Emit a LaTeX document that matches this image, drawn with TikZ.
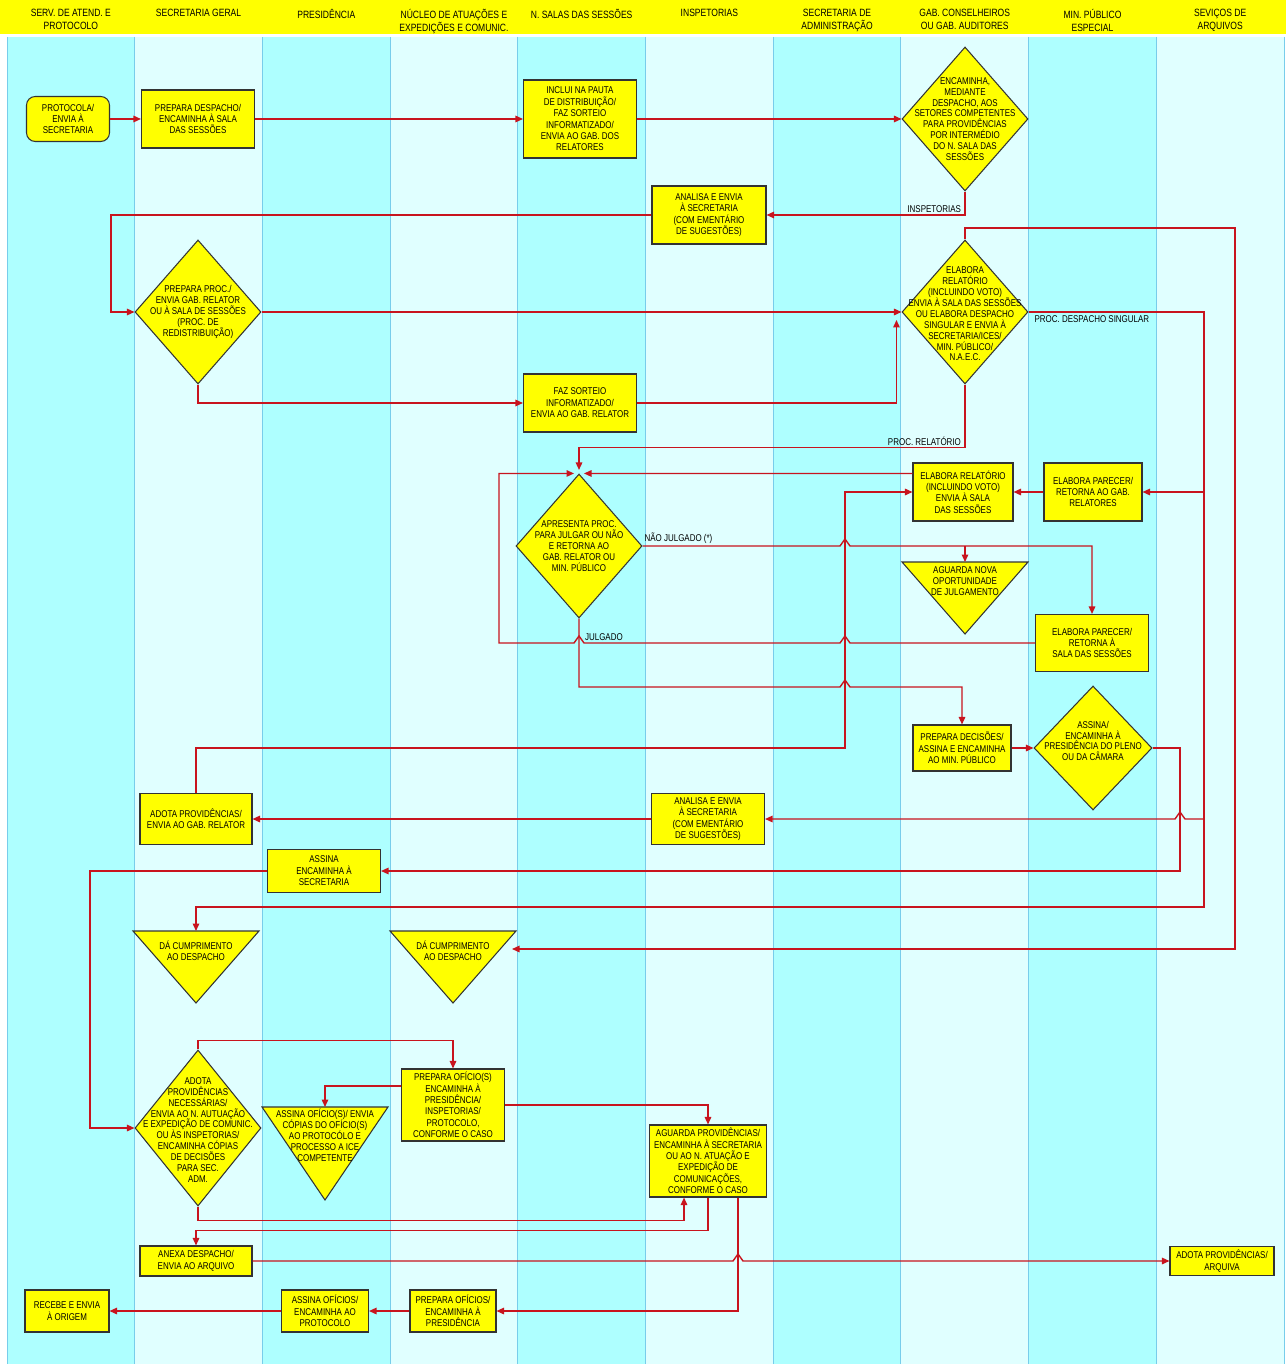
\documentclass[tikz,border=0pt]{standalone}
\usepackage{fontspec}
\setmainfont{Liberation Sans}[FakeStretch=0.81]
\usetikzlibrary{shapes.geometric,arrows.meta}

\definecolor{laneA}{RGB}{174,255,255}
\definecolor{laneB}{RGB}{224,255,255}
\definecolor{laneline}{RGB}{120,205,235}
\definecolor{flowred}{RGB}{200,20,30}
\definecolor{boxfill}{RGB}{255,255,0}

\tikzset{
  actbox/.style 2 args={draw=black!80, line width=0.6pt, fill=boxfill, minimum width=#1*0.02cm, minimum height=#2*0.02cm, inner sep=1pt, align=center, font=\fontsize{5.6}{6.5}\selectfont},
  decbox/.style 2 args={diamond, draw=black!80, line width=0.6pt, fill=boxfill, minimum width=#1*0.02cm, minimum height=#2*0.02cm, inner sep=0pt},
  dtext/.style={align=center, font=\fontsize{5.6}{6.2}\selectfont, inner sep=0pt},
  trishape/.style={draw=black!80, line width=0.6pt, fill=boxfill},
  flow/.style={draw=flowred, line width=0.8pt, -{Triangle[length=0.15cm,width=0.13cm]}},
  lbl/.style={font=\fontsize{5.6}{6.5}\selectfont, inner sep=1pt},
  lanehead/.style={font=\fontsize{6}{7.4}\selectfont, align=center, anchor=north, inner sep=0pt}
}

% triangle: name, x centre, y top, height
\newcommand{\tri}[4]{%
  \draw[trishape] ({#2-63},#3) -- ({#2+63},#3) -- (#2,{#3+#4}) -- cycle;
  \coordinate (#1-n) at (#2,#3);}
% line hops (going right / going left)
\newcommand{\hopr}[2]{-- ({#1-5},#2) -- (#1,{#2-7}) -- ({#1+5},#2)}
\newcommand{\hopl}[2]{-- ({#1+5},#2) -- (#1,{#2-7}) -- ({#1-5},#2)}

\begin{document}
\begin{tikzpicture}[x=0.02cm,y=-0.02cm]
\useasboundingbox (0,0) rectangle (1286,1364);

% lanes
\fill[boxfill] (0,0) rectangle (1286,34);
\foreach \i in {0,2,4,6,8}
  \fill[laneA] ({7+127.7*\i},37) rectangle ({7+127.7*(\i+1)},1364);
\foreach \i in {1,3,5,7,9}
  \fill[laneB] ({7+127.7*\i},37) rectangle ({7+127.7*(\i+1)},1364);
\foreach \i in {0,...,10}
  \draw[laneline,line width=0.5pt] ({7+127.7*\i},37) -- ({7+127.7*\i},1364);
\foreach \i/\t in {0/{SERV. DE ATEND. E\\PROTOCOLO}, 1/{SECRETARIA GERAL}, 2/{PRESIDÊNCIA},
    3/{NÚCLEO DE ATUAÇÕES E\\EXPEDIÇÕES E COMUNIC.}, 4/{N. SALAS DAS SESSÕES}, 5/{INSPETORIAS},
    6/{SECRETARIA DE\\ADMINISTRAÇÃO}, 7/{GAB. CONSELHEIROS\\OU GAB. AUDITORES},
    8/{MIN. PÚBLICO\\ESPECIAL}, 9/{SEVIÇOS DE\\ARQUIVOS}}
  \node[lanehead] (hd\i) at ({7+127.7*(\i+0.5)},9) {\t};

\coordinate (railA) at (1204,0);
\coordinate (railB) at (1235,0);
\coordinate (railC) at (1180,0);
\coordinate (railD) at (845,0);
\coordinate (railE) at (499,0);
\coordinate (railF) at (111,0);
\coordinate (railG) at (90,0);
\coordinate (railH) at (738,0);

% steps
\node[actbox={83}{45},rounded corners=5pt] (protocola) at (68,119) {PROTOCOLA/\\ENVIA À\\SECRETARIA};
\node[actbox={113}{58}] (prepdesp) at (198,119) {PREPARA DESPACHO/\\ENCAMINHA À SALA\\DAS SESSÕES};
\node[actbox={113}{78}] (inclui) at (580,119) {INCLUI NA PAUTA\\DE DISTRIBUIÇÃO/\\FAZ SORTEIO\\INFORMATIZADO/\\ENVIA AO GAB. DOS\\RELATORES};
\node[decbox={126}{144},label={[dtext]center:{ENCAMINHA,\\MEDIANTE\\DESPACHO, AOS\\SETORES COMPETENTES\\PARA PROVIDÊNCIAS\\POR INTERMÉDIO\\DO N. SALA DAS\\SESSÕES}}] (encaminha) at (965,119) {};
\node[actbox={114}{58}] (analisa1) at (709,215) {ANALISA E ENVIA\\À SECRETARIA\\(COM EMENTÁRIO\\DE SUGESTÕES)};
\node[decbox={126}{144},label={[dtext]center:{PREPARA PROC./\\ENVIA GAB. RELATOR\\OU À SALA DE SESSÕES\\(PROC. DE\\REDISTRIBUIÇÃO)}}] (prepproc) at (198,312) {};
\node[decbox={126}{144},label={[dtext,yshift=-0.04cm]center:{ELABORA\\RELATÓRIO\\(INCLUINDO VOTO)\\ENVIA À SALA DAS SESSÕES\\OU ELABORA DESPACHO\\SINGULAR E ENVIA À\\SECRETARIA/ICES/\\MIN. PÚBLICO/\\N.A.E.C.}}] (elabora) at (965,312) {};
\node[actbox={113}{58}] (fazsorteio) at (580,403) {FAZ SORTEIO\\INFORMATIZADO/\\ENVIA AO GAB. RELATOR};
\node[actbox={100}{58}] (elabrel) at (963,492) {ELABORA RELATÓRIO\\(INCLUINDO VOTO)\\ENVIA À SALA\\DAS SESSÕES};
\node[actbox={98}{58}] (elabpar1) at (1093,492) {ELABORA PARECER/\\RETORNA AO GAB.\\RELATORES};
\node[decbox={126}{144},label={[dtext]center:{APRESENTA PROC.\\PARA JULGAR OU NÃO\\E RETORNA AO\\GAB. RELATOR OU\\MIN. PÚBLICO}}] (apresenta) at (579,546) {};
\tri{aguarda}{965}{562}{72}
\node[dtext,anchor=north] (aguarda) at (965,566) {AGUARDA NOVA\\OPORTUNIDADE\\DE JULGAMENTO};
\node[actbox={113}{57}] (elabpar2) at (1092,643) {ELABORA PARECER/\\RETORNA À\\SALA DAS SESSÕES};
\node[actbox={98}{46}] (prepdec) at (962,748) {PREPARA DECISÕES/\\ASSINA E ENCAMINHA\\AO MIN. PÚBLICO};
\node[decbox={118}{124},label={[dtext,yshift=0.14cm]center:{ASSINA/\\ENCAMINHA À\\PRESIDÊNCIA DO PLENO\\OU DA CÂMARA}}] (assina1) at (1093,748) {};
\node[actbox={112}{51}] (adota1) at (196,819) {ADOTA PROVIDÊNCIAS/\\ENVIA AO GAB. RELATOR};
\node[actbox={113}{51}] (analisa2) at (708,819) {ANALISA E ENVIA\\À SECRETARIA\\(COM EMENTÁRIO\\DE SUGESTÕES)};
\node[actbox={113}{43}] (assinaenc) at (324,871) {ASSINA\\ENCAMINHA À\\SECRETARIA};
\tri{dacump1}{196}{931}{72}
\node[dtext,anchor=north] (dacump1) at (196,941) {DÁ CUMPRIMENTO\\AO DESPACHO};
\tri{dacump2}{453}{931}{72}
\node[dtext,anchor=north] (dacump2) at (453,941) {DÁ CUMPRIMENTO\\AO DESPACHO};
\coordinate (dacump2-e) at (512,949);
\node[decbox={126}{156},label={[dtext,yshift=-0.04cm]center:{ADOTA\\PROVIDÊNCIAS\\NECESSÁRIAS/\\ENVIA AO N. AUTUAÇÃO\\E EXPEDIÇÃO DE COMUNIC.\\OU ÀS INSPETORIAS/\\ENCAMINHA CÓPIAS\\DE DECISÕES\\PARA SEC.\\ADM.}}] (adotaprov) at (198,1128) {};
\tri{assinaof}{325}{1107}{93}
\node[dtext,anchor=north] (assinaof) at (325,1109) {ASSINA OFÍCIO(S)/ ENVIA\\CÓPIAS DO OFÍCIO(S)\\AO PROTOCÓLO E\\PROCESSO A ICE\\COMPETENTE};
\node[actbox={103}{72}] (prepof) at (453,1105) {PREPARA OFÍCIO(S)\\ENCAMINHA À\\PRESIDÊNCIA/\\INSPETORIAS/\\PROTOCOLO,\\CONFORME O CASO};
\node[actbox={117}{72}] (aguardaprov) at (708,1161) {AGUARDA PROVIDÊNCIAS/\\ENCAMINHA À SECRETARIA\\OU AO N. ATUAÇÃO E\\EXPEDIÇÃO DE\\COMUNICAÇÕES,\\CONFORME O CASO};
\node[actbox={112}{30}] (anexa) at (196,1261) {ANEXA DESPACHO/\\ENVIA AO ARQUIVO};
\node[actbox={104}{29}] (adotaarq) at (1222,1261) {ADOTA PROVIDÊNCIAS/\\ARQUIVA};
\node[actbox={84}{42}] (recebe) at (67,1311) {RECEBE E ENVIA\\À ORIGEM};
\node[actbox={87}{42}] (assinaofs) at (325,1311) {ASSINA OFÍCIOS/\\ENCAMINHA AO\\PROTOCOLO};
\node[actbox={86}{42}] (prepofs) at (453,1311) {PREPARA OFÍCIOS/\\ENCAMINHA À\\PRESIDÊNCIA};

% connectors
\draw[flow] (protocola.east) -- (prepdesp.west);
\draw[flow] (prepdesp.east) -- (inclui.west);
\draw[flow] (inclui.east) -- (encaminha.west);
\draw[flow] (encaminha.south) |- (analisa1.east);
\node[lbl,anchor=south east] (lblinsp) at (963,215) {INSPETORIAS};
\draw[flow] (analisa1.west) -| (railF |- prepproc.west) -- (prepproc.west);
\draw[flow] (prepproc.east) -- (elabora.west);
\draw[flow] (prepproc.south) |- (fazsorteio.west);
\draw[flow] (fazsorteio.east) -| ([xshift=-0.1cm,yshift=-0.16cm]elabora.west);
\draw[flow,shorten >=2pt] (elabora.south) |- ([yshift=0.52cm]apresenta.north) -- (apresenta.north);
\node[lbl,anchor=south east] (lblrel) at (963,448) {PROC. RELATÓRIO};
\draw[flow] (elabora.north) |- (railB |- 0,228) |- (dacump2-e);
\draw[flow] (elabora.east) -| (railA |- 0,907) -| (dacump1-n);
\node[lbl,anchor=north west] (lblsing) at ([xshift=0.08cm,yshift=-0.04cm]elabora.east) {PROC. DESPACHO SINGULAR};
\draw[flow] (railA |- elabpar1.east) -- (elabpar1.east);
\draw[flow] (railA |- analisa2.east) \hopl{1180}{819} -- (analisa2.east);
\draw[flow] (elabpar1.west) -- (elabrel.east);
\draw[flow] ([yshift=-0.22cm]elabrel.north west) -- ([xshift=0.1cm]apresenta.north);
\draw[flow] (elabpar2.west) \hopl{845}{643} \hopl{579}{643} -| (railE |- apresenta.north) -- ([xshift=-0.1cm]apresenta.north);
\draw[flow] (apresenta.east) \hopr{845}{546} -| (elabpar2.north);
\node[lbl,anchor=south west] (lblnjul) at (apresenta.east) {NÃO JULGADO (*)};
\draw[flow] (aguarda-n |- apresenta.east) -- (aguarda-n);
\draw[flow] (apresenta.south) -- (579,687) \hopr{845}{687} -| (prepdec.north);
\node[lbl,anchor=south west] (lbljul) at (583,643) {JULGADO};
\draw[flow] (prepdec.east) -- (assina1.west);
\draw[flow] (assina1.east) -| (railC |- assinaenc.east) -- (assinaenc.east);
\draw[flow] (adota1.north) |- (railD |- prepdec.west) |- (elabrel.west);
\draw[flow] (analisa2.west) -- (adota1.east);
\draw[flow] (assinaenc.west) -| (railG |- adotaprov.west) -- (adotaprov.west);
\draw[flow] (adotaprov.north) -- ([yshift=0.18cm]adotaprov.north) -| (prepof.north);
\draw[flow] ([yshift=0.38cm]prepof.west) -| (assinaof-n);
\draw[flow] (prepof.east) -| (aguardaprov.north);
\draw[flow] (adotaprov.south) -- ([yshift=-0.28cm]adotaprov.south) -| ([xshift=-0.48cm]aguardaprov.south);
\draw[flow] (aguardaprov.south) -- ([yshift=-0.66cm]aguardaprov.south) -| (anexa.north);
\draw[flow] (railH |- aguardaprov.south) |- (prepofs.east);
\draw[flow] (anexa.east) \hopr{738}{1261} -- (adotaarq.west);
\draw[flow] (prepofs.west) -- (assinaofs.east);
\draw[flow] (assinaofs.west) -- (recebe.east);
\end{tikzpicture}
\end{document}
